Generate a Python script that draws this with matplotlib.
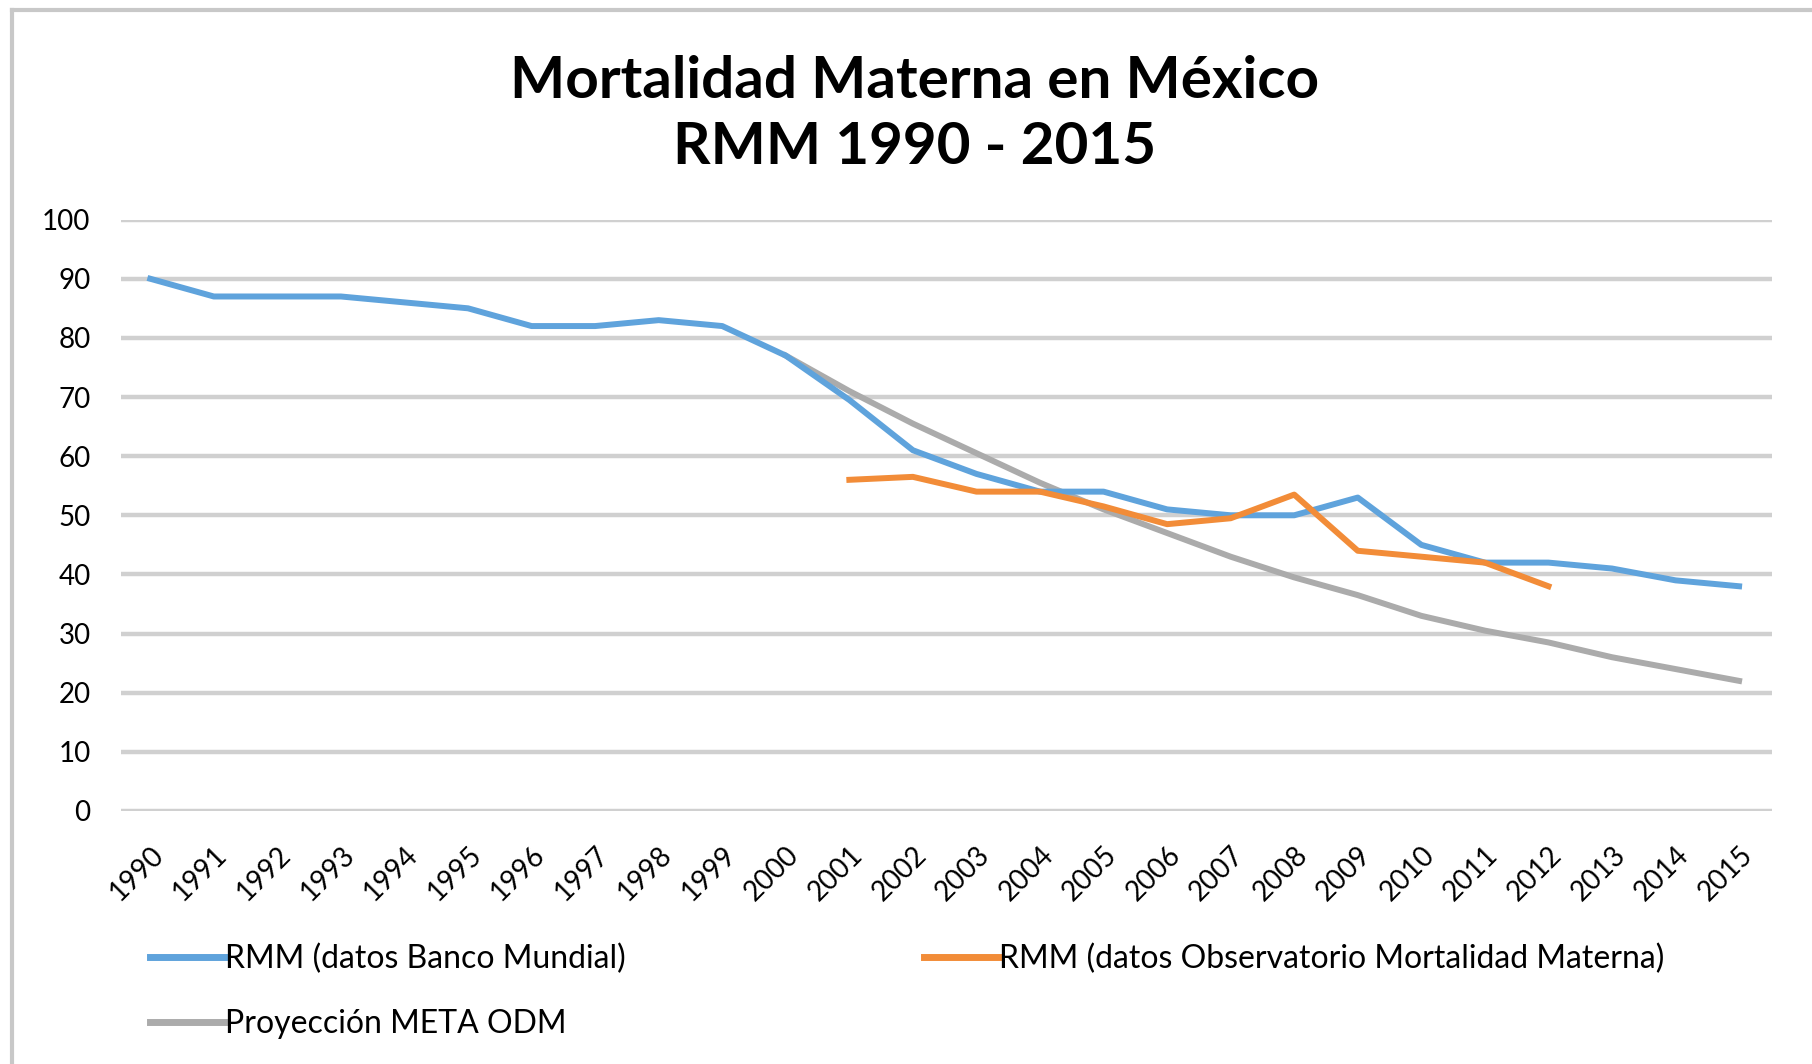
import matplotlib.pyplot as plt
from matplotlib.lines import Line2D

plt.rcParams['font.family'] = ['Lato', 'DejaVu Sans']

years = list(range(1990, 2016))
year_labels = [str(y) for y in years]

# RMM (datos Banco Mundial), 1990-2015
rmm_bm = [90, 87, 87, 87, 86, 85, 82, 82, 83, 82, 77, 69.5, 61, 57, 54, 54,
          51, 50, 50, 53, 45, 42, 42, 41, 39, 38]
# RMM (datos Observatorio Mortalidad Materna), 2001-2012
years_omm = list(range(2001, 2013))
rmm_omm = [56, 56.5, 54, 54, 51.5, 48.5, 49.5, 53.5, 44, 43, 42, 38]
# Proyección META ODM, 2000-2015
years_odm = list(range(2000, 2016))
meta_odm = [77, 71, 65.5, 60.5, 55.5, 51, 47, 43, 39.5, 36.5, 33, 30.5,
            28.5, 26, 24, 22]

c_blue = '#5fa3dc'
c_orange = '#f28c38'
c_gray = '#ababab'

fig = plt.figure(figsize=(18.12, 10.64), dpi=100)
ax = fig.add_axes([0.0668, 0.2378, 0.9112, 0.5558])

idx = {y: i for i, y in enumerate(years)}
ax.plot([idx[y] for y in years], rmm_bm, color=c_blue, lw=4.3, zorder=3)
ax.plot([idx[y] for y in years_omm], rmm_omm, color=c_orange, lw=4.3, zorder=4)
ax.plot([idx[y] for y in years_odm], meta_odm, color=c_gray, lw=4.3, zorder=2)

ax.set_xlim(-0.46, 25.52)
ax.set_ylim(0, 100)
ax.set_yticks(range(0, 101, 10))
ax.set_xticks(range(len(years)))
ax.set_xticklabels(year_labels, rotation=45, ha='right', rotation_mode='anchor',
                   fontsize=20)
ax.tick_params(axis='y', labelsize=20, length=0, pad=22)
ax.tick_params(axis='x', length=0, pad=22)
ax.grid(axis='y', color='#d0d0d0', lw=3.2, zorder=0)
ax.set_axisbelow(True)
for s in ax.spines.values():
    s.set_visible(False)

fig.text(0.505, 0.923, 'Mortalidad Materna en México', ha='center', va='center',
         fontsize=42, fontweight='bold')
fig.text(0.505, 0.861, 'RMM 1990 - 2015', ha='center', va='center',
         fontsize=42, fontweight='bold')

# frame lines
fig.add_artist(Line2D([0.0066, 1.0], [0.991, 0.991], color='#c8c8c8', lw=3))
fig.add_artist(Line2D([0.0066, 0.0066], [0.0, 0.991], color='#c8c8c8', lw=3))

legend_items = [
    (c_blue, 'RMM (datos Banco Mundial)', 0.083, 0.0987),
    (c_orange, 'RMM (datos Observatorio Mortalidad Materna)', 0.51, 0.0987),
    (c_gray, 'Proyección META ODM', 0.083, 0.0376),
]
for color, label, lx, ly in legend_items:
    leg = fig.legend([Line2D([], [], color=color, lw=5)], [label],
                     loc='center left', bbox_to_anchor=(lx, ly), frameon=False,
                     fontsize=23, handlelength=2.3, handletextpad=0.05,
                     borderpad=0, borderaxespad=0)

fig.savefig('out.png', dpi=100)
